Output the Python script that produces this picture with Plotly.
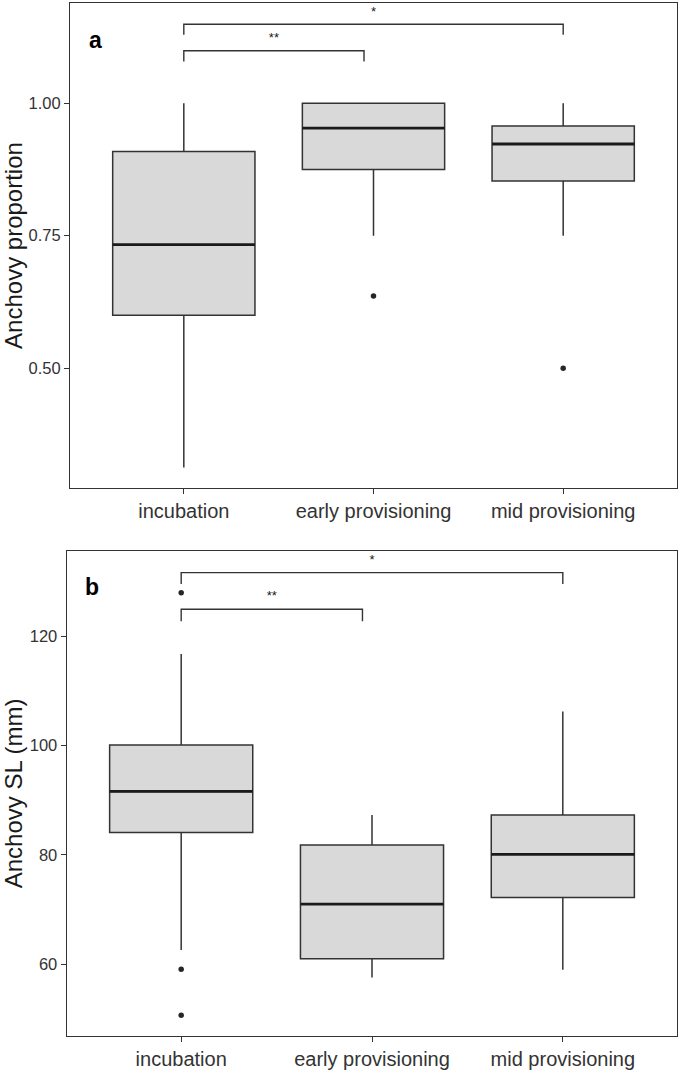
import plotly.graph_objects as go

# ---------------- data ----------------
categories = ["incubation", "early provisioning", "mid provisioning"]
positions = [0, 1, 2]

# Panel a: Anchovy proportion
a_lower = [0.3125, 0.75, 0.75]
a_q1 = [0.600, 0.875, 0.853]
a_median = [0.733, 0.953, 0.923]
a_q3 = [0.909, 1.000, 0.957]
a_upper = [1.000, 1.000, 1.000]
a_out_x = [1, 2]
a_out_y = [0.636, 0.500]
a_ticks = [0.50, 0.75, 1.00]

# Panel b: Anchovy SL (mm)
b_lower = [62.6, 57.6, 59.0]
b_q1 = [84.1, 61.0, 72.2]
b_median = [91.6, 71.0, 80.1]
b_q3 = [100.1, 81.8, 87.3]
b_upper = [116.7, 87.3, 106.2]
b_out_x = [0, 0, 0]
b_out_y = [127.9, 59.1, 50.7]
b_ticks = [60, 80, 100, 120]

# significance brackets: (start, end, height, tick bottom, label, label height)
a_br_start = [0, 0]
a_br_end = [2, 0.95]
a_br_y = [1.149, 1.099]
a_br_tick = [1.129, 1.0785]
a_br_label = ["*", "**"]
a_br_label_y = [1.170, 1.121]

b_br_start = [0, 0]
b_br_end = [2, 0.95]
b_br_y = [131.6, 124.9]
b_br_tick = [129.5, 122.7]
b_br_label = ["*", "**"]
b_br_label_y = [133.8, 127.1]

BOX_W = 0.75
LINE = "#333333"
FILL = "#d9d9d9"
FONT = "Liberation Sans, Arial, sans-serif"

fig = go.Figure()


def add_panel(xa, ya, lower, q1, med, q3, upper, ox, oy,
              bs, be, by, bt, bl, bly):
    fig.add_trace(go.Box(
        x=positions, q1=q1, median=med, q3=q3,
        lowerfence=lower, upperfence=upper,
        width=BOX_W, whiskerwidth=0, boxpoints=False,
        fillcolor=FILL, line=dict(color=LINE, width=1.5),
        xaxis=xa, yaxis=ya, showlegend=False, hoverinfo="skip"))
    # thicker median lines
    mx, my = [], []
    for p, m in zip(positions, med):
        mx += [p - BOX_W / 2, p + BOX_W / 2, None]
        my += [m, m, None]
    fig.add_trace(go.Scatter(x=mx, y=my, mode="lines",
                             line=dict(color="#1a1a1a", width=2.8),
                             xaxis=xa, yaxis=ya, showlegend=False,
                             hoverinfo="skip"))
    # outliers
    fig.add_trace(go.Scatter(x=ox, y=oy, mode="markers",
                             marker=dict(color="#262626", size=5.5),
                             xaxis=xa, yaxis=ya, showlegend=False,
                             hoverinfo="skip"))
    # brackets
    bx, byy = [], []
    for s, e, h, t in zip(bs, be, by, bt):
        bx += [s, s, e, e, None]
        byy += [t, h, h, t, None]
    fig.add_trace(go.Scatter(x=bx, y=byy, mode="lines",
                             line=dict(color=LINE, width=1.4),
                             xaxis=xa, yaxis=ya, showlegend=False,
                             hoverinfo="skip"))
    fig.add_trace(go.Scatter(x=[(s + e) / 2 for s, e in zip(bs, be)],
                             y=bly, mode="text", text=bl,
                             textfont=dict(size=13, color="#1a1a1a",
                                           family=FONT),
                             textposition="middle center",
                             xaxis=xa, yaxis=ya, showlegend=False,
                             hoverinfo="skip"))


add_panel("x", "y", a_lower, a_q1, a_median, a_q3, a_upper, a_out_x, a_out_y,
          a_br_start, a_br_end, a_br_y, a_br_tick, a_br_label, a_br_label_y)
add_panel("x2", "y2", b_lower, b_q1, b_median, b_q3, b_upper, b_out_x, b_out_y,
          b_br_start, b_br_end, b_br_y, b_br_tick, b_br_label, b_br_label_y)

W, H = 685, 1075


def xdom(l, r):
    return [l / W, r / W]


def ydom(top, bottom):
    return [(H - bottom) / H, (H - top) / H]


xaxis_common = dict(
    range=[-0.6, 2.6], tickmode="array", tickvals=positions,
    ticktext=categories, showgrid=False, zeroline=False,
    showline=True, mirror=True, linecolor=LINE, linewidth=1.2,
    ticks="outside", ticklen=5, tickcolor=LINE, tickwidth=1.2,
    tickfont=dict(size=20, color="#333333", family=FONT),
)
yaxis_common = dict(
    showgrid=False, zeroline=False,
    showline=True, mirror=True, linecolor=LINE, linewidth=1.2,
    ticks="outside", ticklen=5, tickcolor=LINE, tickwidth=1.2,
    tickfont=dict(size=16.5, color="#333333", family=FONT),
)

fig.update_layout(
    width=W, height=H,
    margin=dict(l=0, r=0, t=0, b=0),
    paper_bgcolor="white", plot_bgcolor="white",
    font=dict(family=FONT),
    xaxis=dict(domain=xdom(70, 677), anchor="y", **xaxis_common),
    yaxis=dict(domain=ydom(3, 488), anchor="x", range=[0.274, 1.189],
               tickvals=a_ticks, tickformat=".2f",
               title=dict(text="Anchovy proportion", standoff=4,
                          font=dict(size=24, color="#1a1a1a", family=FONT)),
               **yaxis_common),
    xaxis2=dict(domain=xdom(66.7, 677.3), anchor="y2", **xaxis_common),
    yaxis2=dict(domain=ydom(550.7, 1036), anchor="x2", range=[46.9, 135.6],
                tickvals=b_ticks,
                title=dict(text="Anchovy SL (mm)", standoff=4,
                           font=dict(size=24, color="#1a1a1a", family=FONT)),
                **yaxis_common),
    annotations=[
        dict(text="<b>a</b>", xref="x domain", yref="y domain",
             x=0.028, y=0.955, showarrow=False,
             font=dict(size=23, color="#000000", family=FONT)),
        dict(text="<b>b</b>", xref="x2 domain", yref="y2 domain",
             x=0.027, y=0.957, showarrow=False,
             font=dict(size=23, color="#000000", family=FONT)),
    ],
)

fig.write_html(
    "out.html",
    config={"displayModeBar": False},
    post_script="document.body.style.margin='0';document.body.style.overflow='hidden';",
)
